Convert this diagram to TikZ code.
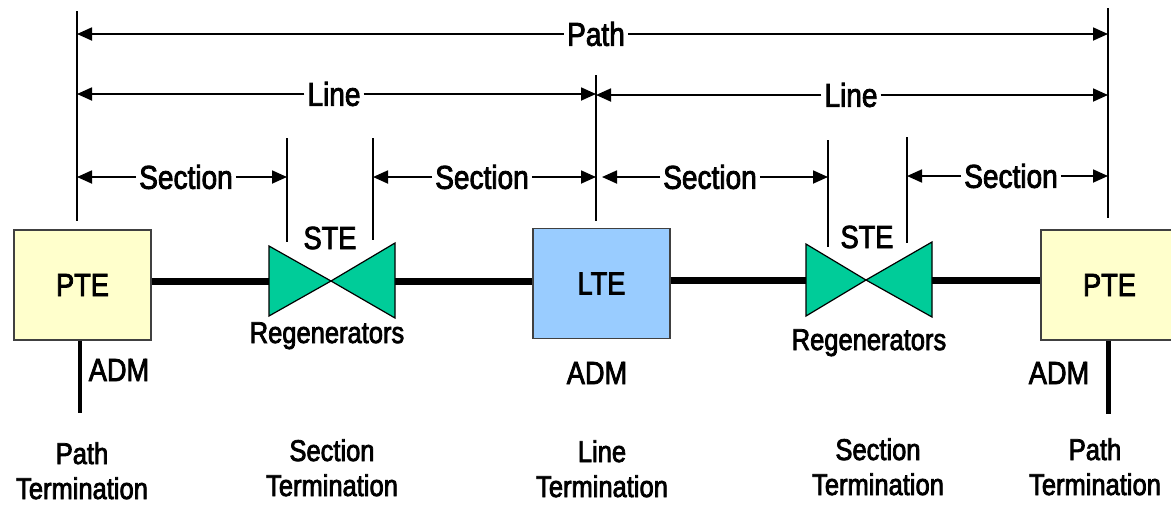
\documentclass[tikz,border=0pt]{standalone}
\usepackage{fontspec}
\setmainfont[FakeStretch=0.85,FakeBold=2.5]{Liberation Sans}
\usetikzlibrary{arrows.meta}
\definecolor{pteyellow}{HTML}{FFFFCC}
\definecolor{lteblue}{HTML}{99CCFF}
\definecolor{regreen}{HTML}{00CC99}
\begin{document}
\begin{tikzpicture}[x=1pt,y=-1pt,
  lbl/.style={font=\fontsize{33}{35}\selectfont, inner sep=3pt},
  dim/.style={line width=1.8pt, -{Triangle[length=15pt,width=13pt]}},
  vline/.style={line width=1.8pt},
  box/.style={draw=black!75, line width=1.2pt, minimum width=137pt, minimum height=110pt, font=\fontsize{32}{34}\selectfont, inner sep=0pt},
  bow/.style={draw=black, line width=1.2pt, fill=regreen, line join=miter},
  trunk/.style={line width=7pt},
  adm/.style={line width=4.5pt},
  txt/.style={font=\fontsize{32}{34}\selectfont, inner sep=0pt},
  reg/.style={font=\fontsize{30}{34}\selectfont, inner sep=0pt},
  term/.style={font=\fontsize{30}{35}\selectfont, align=center, inner sep=0pt}
]
\useasboundingbox (0,0) rectangle (1171,504);
\clip (0,0) rectangle (1171,504);

% vertical reference lines
\coordinate (pL1) at (77,11);   \coordinate (pL2) at (77,221);
\coordinate (pR1) at (1108,8);  \coordinate (pR2) at (1108,218);
\coordinate (mid1) at (596,75); \coordinate (mid2) at (596,221);
\coordinate (sA1) at (287,138); \coordinate (sA2) at (287,242);
\coordinate (sB1) at (373,138); \coordinate (sB2) at (373,240);
\coordinate (sC1) at (828,140); \coordinate (sC2) at (828,247);
\coordinate (sD1) at (907,137); \coordinate (sD2) at (907,243);
\draw[vline] (pL1) -- (pL2);
\draw[vline] (pR1) -- (pR2);
\draw[vline] (mid1) -- (mid2);
\draw[vline] (sA1) -- (sA2);
\draw[vline] (sB1) -- (sB2);
\draw[vline] (sC1) -- (sC2);
\draw[vline] (sD1) -- (sD2);

% dimension labels and arrows
\node[lbl] (path) at (596,34) {Path};
\draw[dim] (path.west) -- (path.west -| pL1);
\draw[dim] (path.east) -- (path.east -| pR1);

\node[lbl] (lineA) at (334,94) {Line};
\draw[dim] (lineA.west) -- (lineA.west -| pL1);
\draw[dim] (lineA.east) -- (lineA.east -| mid1);

\node[lbl] (lineB) at (851,95) {Line};
\draw[dim] (lineB.west) -- (lineB.west -| mid1);
\draw[dim] (lineB.east) -- (lineB.east -| pR1);

\node[lbl] (secA) at (186,177) {Section};
\draw[dim] (secA.west) -- (secA.west -| pL1);
\draw[dim] (secA.east) -- (secA.east -| sA1);

\node[lbl] (secB) at (482,177) {Section};
\draw[dim] (secB.west) -- (secB.west -| sB1);
\draw[dim] (secB.east) -- (secB.east -| mid1);

\node[lbl] (secC) at (710,177) {Section};
\draw[dim, shorten >=6pt] (secC.west) -- (secC.west -| mid1);
\draw[dim] (secC.east) -- (secC.east -| sC1);

\node[lbl] (secD) at (1011,176) {Section};
\draw[dim] (secD.west) -- (secD.west -| sD1);
\draw[dim] (secD.east) -- (secD.east -| pR1);

% equipment boxes
\node[box, fill=pteyellow] (pte1) at (82.5,285) {PTE};
\node[box, fill=lteblue] (lte) at (601.5,283.5) {LTE};
\node[box, fill=pteyellow] (pte2) at (1109.5,285) {PTE};

% regenerator coordinates
\coordinate (r1) at (331,281); \coordinate (r1L) at (269,281); \coordinate (r1R) at (395,281);
\coordinate (r2) at (866,280); \coordinate (r2L) at (806,280); \coordinate (r2R) at (932,280);

% trunk lines
\draw[trunk] (pte1.east |- r1L) -- (r1L);
\draw[trunk] (r1R) -- (lte.west |- r1R);
\draw[trunk] (lte.east |- r2L) -- (r2L);
\draw[trunk] (r2R) -- (pte2.west |- r2R);

% regenerators (bow ties)
\draw[bow] (r1) -- (269,246) -- (269,316) -- cycle;
\draw[bow] (r1) -- (395,243) -- (395,318) -- cycle;
\draw[bow] (r2) -- (806,244) -- (806,316) -- cycle;
\draw[bow] (r2) -- (932,242) -- (932,317) -- cycle;

% ADM drops
\coordinate (a1) at (80,413);
\coordinate (a2) at (1108.5,414);
\draw[adm] (pte1.south -| a1) -- (a1);
\draw[adm] (pte2.south -| a2) -- (a2);

% labels
\node[txt] (adm1) at (119,370) {ADM};
\node[txt] (adm2) at (597,373) {ADM};
\node[txt] (adm3) at (1059,373) {ADM};
\node[txt] (ste1) at (330,238) {STE};
\node[txt] (ste2) at (867,237) {STE};
\node[reg, anchor=base] (reg1) at (327,343) {Regenerators};
\node[reg, anchor=base] (reg2) at (869,350) {Regenerators};

\node[term, anchor=base] (t1) at (82,499) {Path\\Termination};
\node[term, anchor=base] (t2) at (332,496) {Section\\Termination};
\node[term, anchor=base] (t3) at (602,497) {Line\\Termination};
\node[term, anchor=base] (t4) at (878,495) {Section\\Termination};
\node[term, anchor=base] (t5) at (1095,495) {Path\\Termination};
\end{tikzpicture}
\end{document}
